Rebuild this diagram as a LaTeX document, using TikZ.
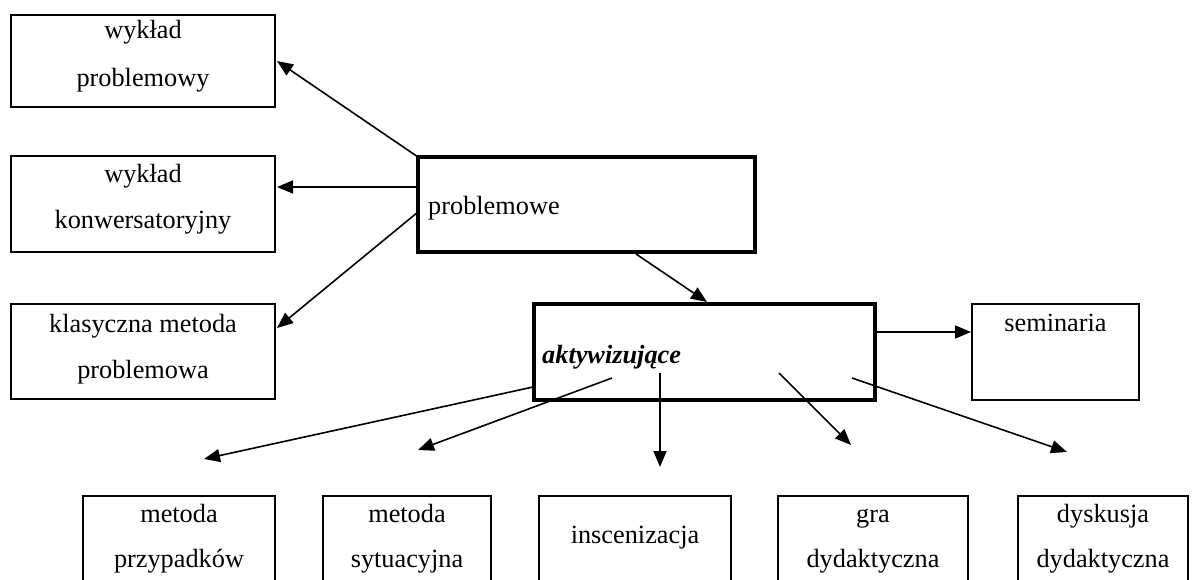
\documentclass[tikz,border=0pt]{standalone}
\usepackage{fontspec}
\setmainfont{Liberation Serif}
\usetikzlibrary{arrows.meta}
\begin{document}
\begin{tikzpicture}[x=1pt,y=-1pt,
  box/.style={draw, line width=1.8pt, inner sep=0pt, outer sep=0pt},
  mainbox/.style={draw, line width=4pt, inner sep=0pt, outer sep=0pt},
  lbl/.style={anchor=base, inner sep=0pt, font=\fontsize{26.3}{30}\selectfont},
  conn/.style={line width=1.6pt, -{Triangle[length=16pt,width=13pt]}}]
\useasboundingbox (0,0) rectangle (1200,580);
\clip (0,0) rectangle (1200,580);

% left column
\node[box, minimum width=264pt, minimum height=92pt] (wp) at (143,61) {};
\node[lbl] (wp1) at (143,39) {wykład};
\node[lbl] (wp2) at (143,87) {problemowy};

\node[box, minimum width=264pt, minimum height=96pt] (wk) at (143,204) {};
\node[lbl] (wk1) at (143,183) {wykład};
\node[lbl] (wk2) at (143,229) {konwersatoryjny};

\node[box, minimum width=264pt, minimum height=95pt] (km) at (143,351.5) {};
\node[lbl] (km1) at (143,332) {klasyczna metoda};
\node[lbl] (km2) at (143,378) {problemowa};

% central boxes
\node[mainbox, minimum width=337pt, minimum height=95pt] (pm) at (586.5,204.5) {};
\node[lbl, anchor=base west] (pmt) at (428,215) {problemowe};

\node[mainbox, minimum width=341pt, minimum height=96pt] (ak) at (704,352) {};
\node[lbl, anchor=base west] (akt) at (542,363) {\bfseries\itshape aktywizujące};

% right box
\node[box, minimum width=167pt, minimum height=96pt] (se) at (1055.5,352) {};
\node[lbl] (set) at (1055.5,331) {seminaria};

% bottom row (boxes run past the lower edge)
\node[box, minimum width=192pt, minimum height=110pt] (mp) at (179,551) {};
\node[lbl] (mp1) at (179,522) {metoda};
\node[lbl] (mp2) at (179,567) {przypadków};

\node[box, minimum width=168pt, minimum height=110pt] (ms) at (407,551) {};
\node[lbl] (ms1) at (407,522) {metoda};
\node[lbl] (ms2) at (407,567) {sytuacyjna};

\node[box, minimum width=192pt, minimum height=110pt] (in) at (635,551) {};
\node[lbl] (in1) at (635,543) {inscenizacja};

\node[box, minimum width=190pt, minimum height=110pt] (gd) at (873,551) {};
\node[lbl] (gd1) at (873,522) {gra};
\node[lbl] (gd2) at (873,567) {dydaktyczna};

\node[box, minimum width=170pt, minimum height=110pt] (dd) at (1103,551) {};
\node[lbl] (dd1) at (1103,522) {dyskusja};
\node[lbl] (dd2) at (1103,567) {dydaktyczna};

% connector ends
\coordinate (t1) at (277,61);
\coordinate (p2) at (418,187);
\coordinate (t2) at (277,187);
\coordinate (p3) at (418,212);
\coordinate (t3) at (277,328);
\coordinate (p4) at (636,254);
\coordinate (t4) at (707,302);
\coordinate (a0) at (875,332);
\coordinate (t5) at (971,332);
\coordinate (a1) at (533,387);
\coordinate (t6) at (204,459);
\coordinate (a2) at (612,378);
\coordinate (t7) at (418,450);
\coordinate (a3) at (660,373);
\coordinate (t8) at (660,467);
\coordinate (a4) at (779,373);
\coordinate (t9) at (851,445);
\coordinate (a5) at (852,378);
\coordinate (t10) at (1067,452);

% connectors
\draw[conn] (pm.north west) -- (t1);
\draw[conn] (p2) -- (t2);
\draw[conn] (p3) -- (t3);
\draw[conn] (p4) -- (t4);
\draw[conn] (a0) -- (t5);
\draw[conn] (a1) -- (t6);
\draw[conn] (a2) -- (t7);
\draw[conn] (a3) -- (t8);
\draw[conn] (a4) -- (t9);
\draw[conn] (a5) -- (t10);
\end{tikzpicture}
\end{document}
